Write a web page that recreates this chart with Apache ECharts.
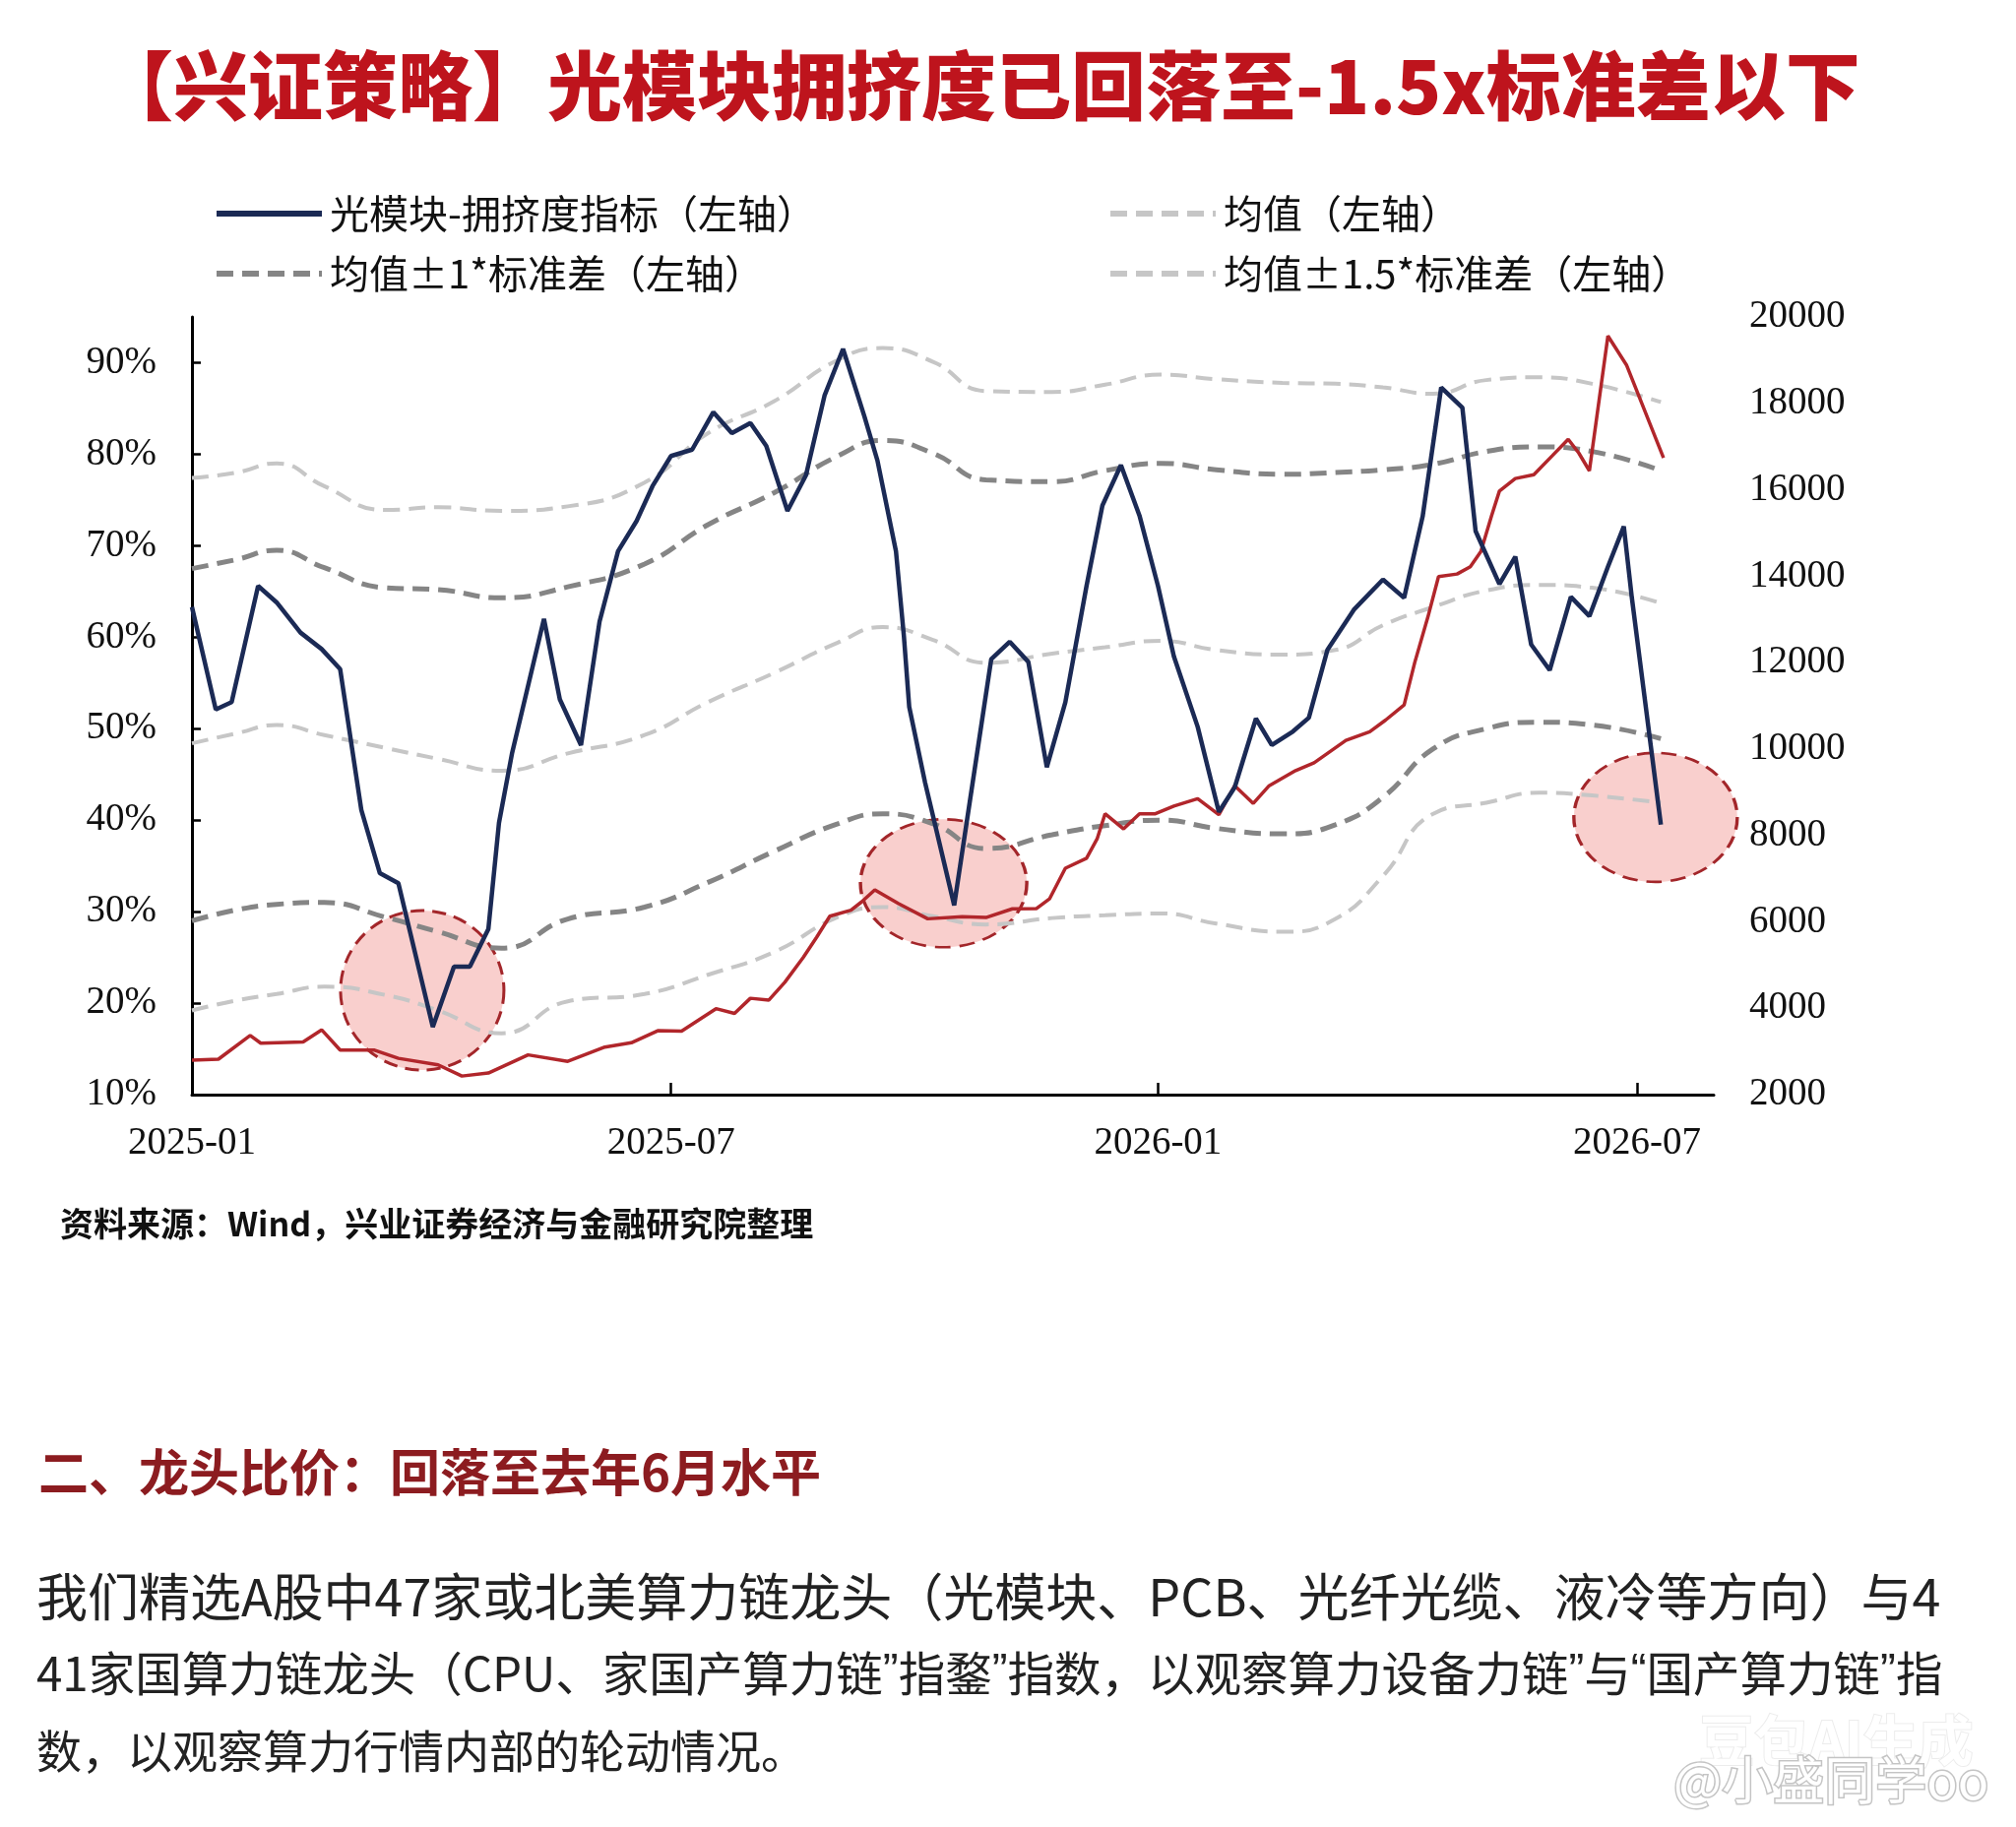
<!DOCTYPE html>
<html>
<head>
<meta charset="utf-8">
<title>光模块拥挤度</title>
<script src="https://cdn.jsdelivr.net/npm/echarts@6.0.0/dist/echarts.min.js"></script>
<style>
  html, body { margin: 0; padding: 0; background: #fff; }
  #main { width: 2048px; height: 1856px; }
</style>
</head>
<body>
<div id="main"></div>
<script>
// x values are days counted from 2025-01-01
var blueDay = [0,9,15,25,32,41,49,56,64,71,78,91,99,105,112,116,121,133,139,147,154,161,168,174,181,189,197,204,211,217,225,232,239,246,254,259,266,269,271,277,288,302,309,316,323,330,338,344,351,358,365,371,380,388,394,402,408,416,422,429,439,450,458,465,472,480,485,494,500,506,513,521,528,535,541,544,555];
var blueVal = [63.3,52.1,52.9,65.6,63.8,60.5,58.7,56.5,41.1,34.2,33.1,17.4,24.0,24.0,28.1,39.7,47.4,62.0,53.2,48.2,61.7,69.4,72.7,76.5,79.8,80.5,84.6,82.3,83.4,80.9,73.8,77.7,86.4,91.5,84.2,79.3,69.4,60.1,52.4,44.1,30.7,57.6,59.5,57.3,45.8,52.9,65.6,74.4,78.8,73.3,65.6,57.9,50.2,40.9,43.6,51.1,48.2,49.7,51.2,58.6,63.0,66.3,64.3,73.2,87.3,85.1,71.6,65.8,68.8,59.2,56.4,64.4,62.3,67.7,72.1,64.4,39.5];

var redDay = [0,10,22,26,42,49,56,69,78,93,102,112,127,142,156,166,176,185,198,205,211,218,224,231,236,241,249,253,258,267,278,291,300,310,319,324,330,338,342,345,352,358,364,371,380,388,394,401,407,417,424,436,445,451,458,462,467,471,478,483,487,491,494,500,507,514,520,524,528,535,542,556];
var redVal = [2800,2820,3370,3190,3220,3500,3030,3030,2840,2690,2430,2500,2920,2770,3100,3200,3480,3470,3990,3880,4230,4190,4600,5180,5640,6130,6270,6460,6740,6420,6070,6120,6100,6300,6305,6530,7240,7470,7920,8500,8150,8500,8500,8680,8850,8480,9150,8740,9150,9500,9680,10200,10400,10670,11020,12000,13060,13990,14050,14220,14570,15390,15970,16260,16350,16790,17170,16850,16440,19560,18890,16740];

var bandDay = [0,17,32,50,73,93,117,142,171,195,220,244,261,280,300,325,345,366,387,412,432,450,469,489,509,529,555];
var upper15 = [77.4,78.0,79.0,76.5,73.9,74.2,73.8,74.3,76.9,82.3,85.8,90.3,91.6,90.1,86.9,86.8,87.6,88.7,88.2,87.8,87.7,87.3,86.6,88.1,88.4,87.7,85.7];
var upper1 = [67.5,68.5,69.5,67.6,65.4,65.2,64.3,65.5,68.0,72.3,75.8,79.8,81.5,80.1,77.2,77.0,78.2,79.0,78.3,77.8,78.0,78.3,78.9,80.3,80.8,80.3,78.2];
var meanLine = [48.4,49.5,50.4,49.3,47.9,46.7,45.4,47.3,49.3,52.9,56.1,59.4,61.1,59.7,57.2,58.2,58.9,59.6,58.6,58.1,58.6,61.3,63.3,65.1,65.7,65.4,63.7];
var lower1 = [29.0,30.2,30.8,31.0,29.4,27.8,26.0,29.2,30.5,33.2,36.6,39.6,40.7,39.6,36.9,38.4,39.4,40.0,39.1,38.5,39.5,42.5,47.8,50.0,50.7,50.4,48.9];
var lower15 = [19.2,20.3,21.0,21.8,20.9,19.2,16.7,20.2,21.0,23.1,25.6,29.4,30.5,29.5,28.6,29.3,29.6,29.8,28.7,27.8,29.2,33.9,40.7,41.9,43.0,42.7,41.9];

// highlighted troughs
var circleDay = [87, 284, 553];
var circleVal = [21.4, 33.1, 40.3];

var xTicks = ['2025-01-01', '2025-07-01', '2026-01-01', '2026-07-01'];
var xEnd = '2026-07-30';
var leftTicks = [10, 20, 30, 40, 50, 60, 70, 80, 90];

var NAME_BLUE = '光模块-拥挤度指标（左轴）';
var NAME_MEAN = '均值（左轴）';
var NAME_STD1 = '均值±1*标准差（左轴）';
var NAME_STD15 = '均值±1.5*标准差（左轴）';

var BASE = Date.UTC(2025, 0, 1);
function dayOf(s) {
    var p = s.split('-');
    return Math.round((Date.UTC(+p[0], +p[1] - 1, +p[2]) - BASE) / 864e5);
}
function dayLabel(d) {
    var t = new Date(BASE + d * 864e5);
    var m = t.getUTCMonth() + 1;
    return t.getUTCFullYear() + '-' + (m < 10 ? '0' + m : m);
}
function pairs(days, vals) {
    return days.map(function (d, i) { return [d, vals[i]]; });
}

var lightDash = { color: '#c6c6c6', width: 4, type: [17, 9] };
var darkDash = { color: '#858585', width: 5, type: [17, 9] };

function bandSeries(name, vals, style) {
    return {
        name: name, type: 'line', yAxisIndex: 0,
        data: pairs(bandDay, vals),
        smooth: 0.5, symbol: 'none', z: 2,
        itemStyle: { color: style.color },
        lineStyle: style
    };
}

var chart = echarts.init(document.getElementById('main'));

var axisFont = { fontFamily: 'Liberation Serif', fontSize: 39, color: '#111' };
var legendBase = {
    orient: 'vertical', top: 192,
    itemWidth: 107, itemHeight: 14, itemGap: 21,
    selectedMode: false,
    itemStyle: { opacity: 0 },
    lineStyle: { width: 6 },
    textStyle: { fontFamily: 'Noto Sans CJK SC', fontSize: 40, color: '#111', padding: [0, 0, 0, 3] }
};
function bodyStyle(size) {
    return {
        fontSize: size, fontWeight: 'normal', color: '#222',
        rich: { q: { fontFamily: 'Liberation Sans', fontSize: size, color: '#222' } }
    };
}
var tickDays = xTicks.map(dayOf);

var option = {
    backgroundColor: '#fff',
    animation: false,
    textStyle: { fontFamily: 'Noto Sans CJK SC' },
    title: [
        {
            text: '【兴证策略】光模块拥挤度已回落至-1.5x标准差以下',
            left: 100, top: 49, padding: 0,
            textStyle: { fontFamily: 'Noto Sans CJK SC', fontSize: 76, fontWeight: 900, color: '#be141d' }
        },
        {
            text: '资料来源：Wind，兴业证券经济与金融研究院整理',
            left: 61, top: 1226, padding: 0,
            textStyle: { fontSize: 34, fontWeight: 'bold', color: '#111' }
        },
        {
            text: '二、龙头比价：回落至去年6月水平',
            left: 39, top: 1470, padding: 0,
            textStyle: { fontSize: 51, fontWeight: 'bold', color: '#8c1c20' }
        },
        {
            text: '我们精选A股中47家或北美算力链龙头（光模块、PCB、光纤光缆、液冷等方向）与4',
            left: 37, top: 1596, padding: 0,
            textStyle: { fontSize: 52, fontWeight: 'normal', color: '#222' }
        },
        {
            text: '41家国算力链龙头（CPU、家国产算力链{q|”}指鍪{q|”}指数，以观察算力设备力链{q|”}与{q|“}国产算力链{q|”}指',
            left: 37, top: 1676, padding: 0,
            textStyle: bodyStyle(47.5)
        },
        {
            text: '数，以观察算力行情内部的轮动情况。',
            left: 37, top: 1756, padding: 0,
            textStyle: bodyStyle(46)
        },
        {
            text: '豆包AI生成',
            left: 1726, top: 1740, padding: 0,
            textStyle: { fontSize: 56, fontWeight: 'bold', color: '#fff', textBorderColor: '#ececec', textBorderWidth: 2 }
        },
        {
            text: '@小盛同学oo',
            left: 1700, top: 1782, padding: 0,
            textStyle: { fontSize: 52, fontWeight: 'normal', color: '#fff', textBorderColor: '#c4c4c4', textBorderWidth: 3 }
        }
    ],
    legend: [
        Object.assign({}, legendBase, { data: [NAME_BLUE, NAME_STD1], left: 212 }),
        Object.assign({}, legendBase, { data: [NAME_MEAN, NAME_STD15], left: 1120 })
    ],
    grid: { left: 195, right: 307, top: 322, bottom: 744, containLabel: false },
    xAxis: {
        type: 'value',
        min: 0, max: dayOf(xEnd),
        axisLine: { onZero: false, lineStyle: { color: '#000', width: 3 } },
        axisTick: { inside: true, length: 12, lineStyle: { color: '#000', width: 2.5 }, customValues: tickDays },
        axisLabel: Object.assign({ customValues: tickDays, margin: 30, formatter: dayLabel }, axisFont),
        splitLine: { show: false }
    },
    yAxis: [
        {
            type: 'value', min: 10, max: 95, interval: 10,
            axisLine: { show: true, onZero: false, lineStyle: { color: '#000', width: 3 } },
            axisTick: { show: true, inside: true, length: 9, lineStyle: { color: '#000', width: 2.5 }, customValues: leftTicks },
            axisLabel: Object.assign({ customValues: leftTicks, formatter: '{value}%', margin: 36 }, axisFont),
            splitLine: { show: false }
        },
        {
            type: 'value', min: 2000, max: 20000, interval: 2000,
            position: 'right',
            axisLine: { show: false },
            axisTick: { show: false },
            axisLabel: Object.assign({ margin: 36, formatter: function (v) { return String(v); } }, axisFont),
            splitLine: { show: false }
        }
    ],
    series: [
        {
            name: 'circles', type: 'line', yAxisIndex: 0, data: [], z: 1,
            markPoint: {
                z: 1,
                symbol: 'circle',
                label: { show: false },
                itemStyle: { color: 'rgba(248,202,200,0.9)', borderColor: '#a3262a', borderWidth: 3, borderType: [14, 8] },
                data: [
                    { coord: [circleDay[0], circleVal[0]], symbolSize: [166, 162] },
                    { coord: [circleDay[1], circleVal[1]], symbolSize: [169, 130] },
                    { coord: [circleDay[2], circleVal[2]], symbolSize: [166, 131] }
                ]
            }
        },
        bandSeries(NAME_STD15, upper15, lightDash),
        bandSeries(NAME_STD1, upper1, darkDash),
        bandSeries(NAME_MEAN, meanLine, lightDash),
        bandSeries(NAME_STD1, lower1, darkDash),
        bandSeries(NAME_STD15, lower15, lightDash),
        {
            name: '指数', type: 'line', yAxisIndex: 1,
            data: pairs(redDay, redVal),
            symbol: 'none', z: 3,
            itemStyle: { color: '#b1262b' },
            lineStyle: { color: '#b1262b', width: 3.5 }
        },
        {
            name: NAME_BLUE, type: 'line', yAxisIndex: 0,
            data: pairs(blueDay, blueVal),
            symbol: 'none', z: 4,
            itemStyle: { color: '#1b2a55' },
            lineStyle: { color: '#1b2a55', width: 4.5 }
        }
    ]
};

chart.setOption(option);
</script>
</body>
</html>
